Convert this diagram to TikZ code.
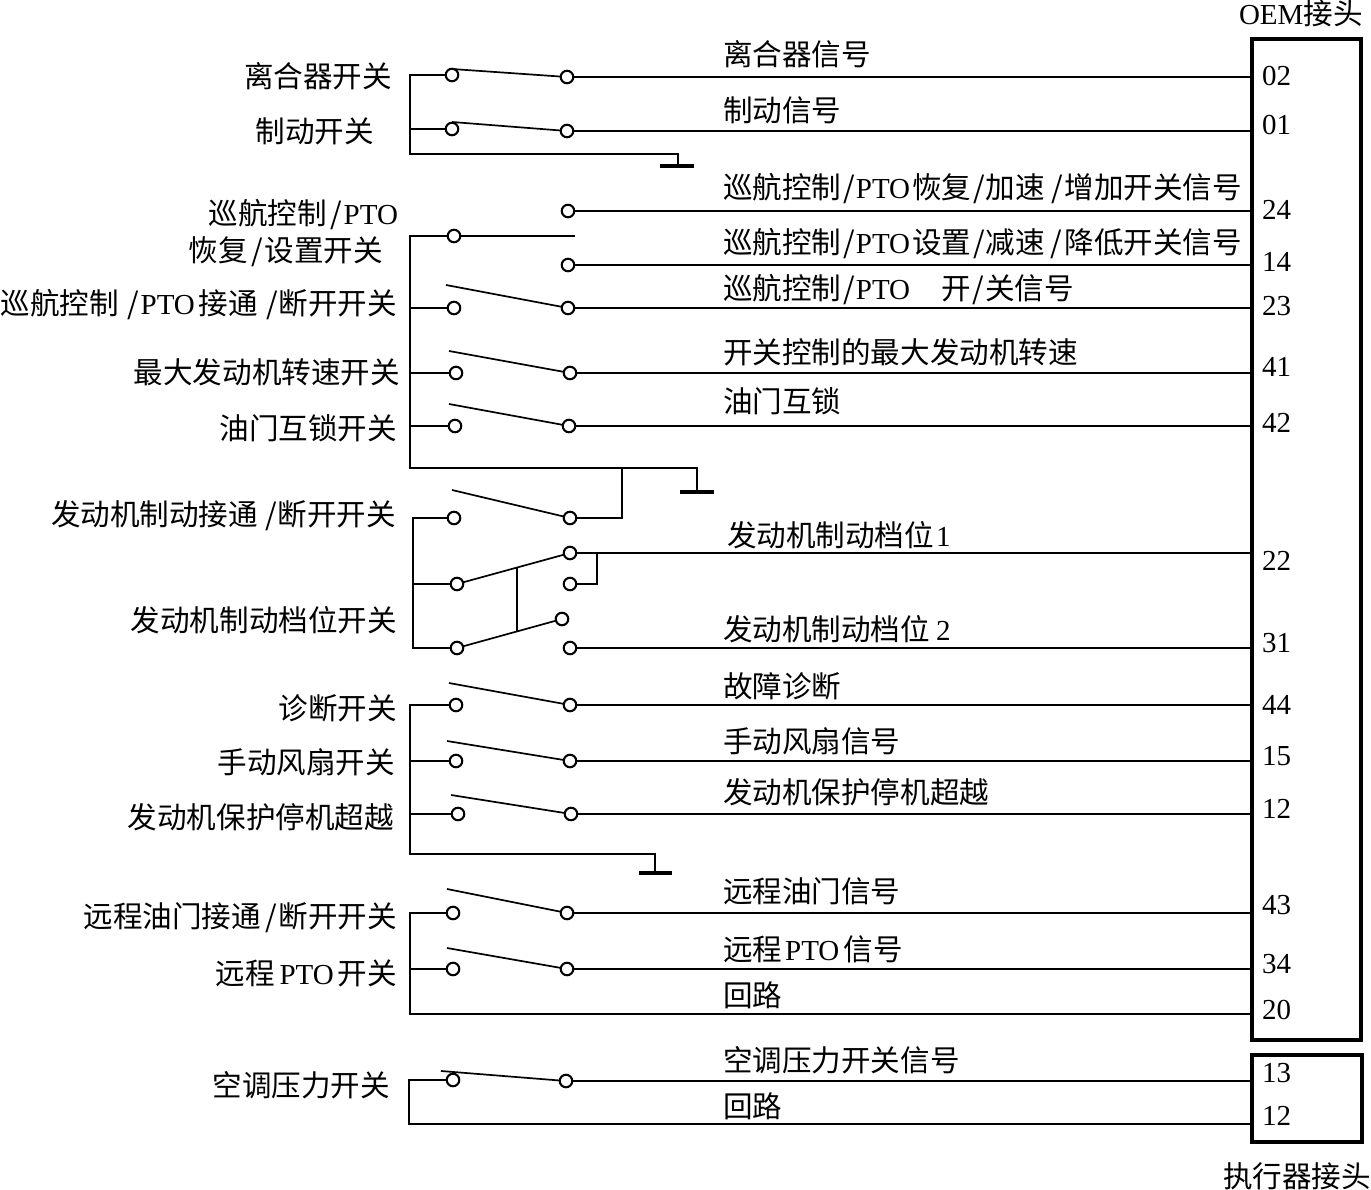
\documentclass[tikz,border=0pt]{standalone}
\usepackage{fontspec}
\setmainfont{Liberation Serif}
\newfontfamily\cjk{Noto Sans CJK SC}[Scale=1.02]
\newcommand{\la}[1]{{\rmfamily\normalfont #1}}
\newcommand{\hs}[1]{\hspace{#1pt}}
\newcommand{\swt}[7]{%
  \node[term] (#1L) at (#2,#3) {};
  \node[term] (#1R) at (#4,#5) {};
  \coordinate (#1B) at (#6,#7);
  \draw[wire] (#1B) -- (#1R);
}
\tikzset{
  wire/.style={line width=1.7pt,line cap=butt},
  term/.style={circle,draw,line width=2.1pt,fill=white,minimum size=12.5pt,inner sep=0pt,outer sep=0pt},
  txt/.style={inner sep=0pt,outer sep=0pt,font=\fontsize{29}{32}\selectfont\cjk,text height=26pt,text depth=2pt},
  lbl/.style={txt,anchor=east},
  sig/.style={txt,anchor=west},
  port/.style={txt,anchor=west,font=\fontsize{29}{32}\selectfont\rmfamily,text height=24pt,text depth=4pt},
  box/.style={draw,line width=4pt,inner sep=0pt,outer sep=0pt,anchor=north west},
  gnd/.style={line width=3.2pt},
}
\begin{document}
\begin{tikzpicture}[x=1pt,y=-1pt]
\useasboundingbox (0,0) rectangle (1371,1190);
% connector blocks
\node[box,minimum width=109pt,minimum height=1001pt] (main) at (1252,39) {};
\node[box,line width=3.4pt,minimum width=110pt,minimum height=87pt] (act) at (1252,1055) {};
\node[txt,anchor=west,font=\fontsize{29}{32}\selectfont\rmfamily] (oem) at (1239,13) {OEM{\cjk 接头}};
\node[txt,anchor=west] (actl) at (1223,1175) {执行器接头};
% switches
\swt{a}{452}{75}{567}{77}{452}{69}
\swt{b}{452}{129}{567}{131}{452}{122}
\node[term] (c1R) at (568,211) {};
\node[term] (c2R) at (568,265) {};
\node[term] (c0L) at (454,236) {};
\coordinate (c0E) at (575,236);
\swt{d}{454}{308}{568}{308}{446}{285}
\swt{e}{456}{373}{570}{373}{449}{351}
\swt{f}{455}{426}{569}{426}{449}{404}
\swt{g}{454}{518}{570}{518}{452}{490}
\node[term] (h1L) at (457,584) {};
\node[term] (h1R) at (570,553) {};
\node[term] (h1S) at (570,584) {};
\node[term] (h2L) at (457,648) {};
\node[term] (h2T) at (562,619) {};
\node[term] (h2R) at (570,648) {};
\swt{i}{456}{705}{570}{705}{449}{683}
\swt{j}{456}{761}{570}{761}{447}{741}
\swt{k}{458}{814}{571}{814}{451}{795}
\swt{l}{453}{913}{567}{913}{447}{889}
\swt{m}{453}{969}{567}{969}{447}{948}
\node[term] (nL) at (453,1080) {};
\node[term] (nR) at (566,1081) {};
\coordinate (nB) at (441,1071);
% signal wires
\foreach \s in {a,b,c1,c2,d,e,f,h1,h2,i,j,k,l,m}{
  \draw[wire] (\s R) -- (\s R -| main.west);
}
\draw[wire] (nR) -- (nR -| act.west);
% first group
\coordinate (busA) at (410,75);
\coordinate (busAb) at (410,154);
\coordinate (gndA) at (678,154);
\coordinate (gndAb) at (678,166);
\draw[wire] (aL) -- (busA) -- (busAb) -- (gndA) -- (gndAb);
\draw[wire] (bL) -- (bL -| busA);
\draw[gnd] (660,166) -- (694,166);
% second group
\coordinate (busB) at (410,236);
\coordinate (busBb) at (410,468);
\coordinate (gndB) at (697,468);
\coordinate (gndBb) at (697,492);
\coordinate (tapB) at (622,468);
\draw[wire] (c0E) -- (c0L) -- (busB) -- (busBb) -- (gndB) -- (gndBb);
\foreach \s in {d,e,f}{ \draw[wire] (\s L) -- (\s L -| busB); }
\draw[gnd] (680,492) -- (714,492);
\draw[wire] (tapB) |- (gR);
% engine brake group
\coordinate (busC) at (413,518);
\coordinate (busCb) at (413,648);
\draw[wire] (gL) -- (busC) -- (busCb) -- (h2L);
\draw[wire] (h1L) -- (h1L -| busC);
\draw[wire] (h1L) -- (h1R);
\draw[wire] (h2L) -- (h2T);
\coordinate (linkT) at (517,568);
\coordinate (linkB) at (517,631);
\draw[wire] (linkT) -- (linkB);
\coordinate (brR) at (597,553);
\draw[wire] (brR) |- (h1S);
% diagnostics group
\coordinate (busD) at (410,705);
\coordinate (busDb) at (410,854);
\coordinate (gndD) at (655,854);
\coordinate (gndDb) at (655,873);
\draw[wire] (iL) -- (busD) -- (busDb) -- (gndD) -- (gndDb);
\foreach \s in {j,k}{ \draw[wire] (\s L) -- (\s L -| busD); }
\draw[gnd] (639,873) -- (672,873);
% remote group
\coordinate (busE) at (410,913);
\coordinate (busEb) at (410,1014);
\coordinate (retE) at (1252,1014);
\draw[wire] (lL) -- (busE) -- (busEb) -- (retE);
\draw[wire] (mL) -- (mL -| busE);
% AC group
\coordinate (busF) at (409,1080);
\coordinate (busFb) at (409,1124);
\draw[wire] (nL) -- (busF) -- (busFb) -- (busFb -| act.west);
\draw[wire] (nB) -- (nR);
% left labels
\node[lbl] (t1) at (392,76) {离合器开关};
\node[lbl] (t2) at (374,131) {制动开关};
\node[lbl] (t3) at (398,213) {巡航控制\hs{3}/\hs{2}\la{PTO}};
\node[lbl] (t4) at (383,250) {恢复\hs{3}/\hs{2}设置开关};
\node[lbl] (t5) at (397,303) {巡航控制\hs{8}/\hs{2}\la{PTO}\hs{4}接通\hs{8}/\hs{1}断开开关};
\node[lbl] (t6) at (400,371) {最大发动机转速开关};
\node[lbl] (t7) at (397,427) {油门互锁开关};
\node[lbl] (t8) at (396,513) {发动机制动接通\hs{7}/\hs{1}断开开关};
\node[lbl] (t9) at (397,619) {发动机制动档位开关};
\node[lbl] (t10) at (397,707) {诊断开关};
\node[lbl] (t11) at (395,761) {手动风扇开关};
\node[lbl] (t12) at (394,816) {发动机保护停机超越};
\node[lbl] (t13) at (397,915) {远程油门接通\hs{4}/\hs{2}断开开关};
\node[lbl] (t14) at (397,972) {远程\hs{5}\la{PTO}\hs{4}开关};
\node[lbl] (t15) at (390,1084) {空调压力开关};
% signal labels
\node[sig] (s1) at (723,54) {离合器信号};
\node[sig] (s2) at (723,110) {制动信号};
\node[sig] (s3) at (723,187) {巡航控制\hs{2}/\hs{1}\la{PTO}\hs{2}恢复\hs{2}/\hs{1}加速\hs{6}/\hs{2}增加开关信号};
\node[sig] (s4) at (723,242) {巡航控制\hs{2}/\hs{1}\la{PTO}\hs{2}设置\hs{2}/\hs{1}减速\hs{5}/\hs{3}降低开关信号};
\node[sig] (s5) at (723,288) {巡航控制\hs{2}/\hs{1}\la{PTO}\hs{31}开\hs{2}/\hs{1}关信号};
\node[sig] (s6) at (723,351) {开关控制的最大发动机转速};
\node[sig] (s7) at (723,400) {油门互锁};
\node[sig] (s8) at (727,534) {发动机制动档位\hs{2}\la{1}};
\node[sig] (s9) at (723,628) {发动机制动档位\hs{6}\la{2}};
\node[sig] (s10) at (723,685) {故障诊断};
\node[sig] (s11) at (723,740) {手动风扇信号};
\node[sig] (s12) at (723,791) {发动机保护停机超越};
\node[sig] (s13) at (723,890) {远程油门信号};
\node[sig] (s14) at (723,948) {远程\hs{3}\la{PTO}\hs{4}信号};
\node[sig] (s15) at (723,994) {回路};
\node[sig] (s16) at (723,1059) {空调压力开关信号};
\node[sig] (s17) at (723,1105) {回路};
% port numbers
\node[port] (p02) at (1262,76) {02};
\node[port] (p01) at (1262,125) {01};
\node[port] (p24) at (1262,210) {24};
\node[port] (p14) at (1262,262) {14};
\node[port] (p23) at (1262,306) {23};
\node[port] (p41) at (1262,366) {41};
\node[port] (p42) at (1262,422) {42};
\node[port] (p22) at (1262,560) {22};
\node[port] (p31) at (1262,642) {31};
\node[port] (p44) at (1262,704) {44};
\node[port] (p15) at (1262,755) {15};
\node[port] (p12) at (1262,808) {12};
\node[port] (p43) at (1262,904) {43};
\node[port] (p34) at (1262,963) {34};
\node[port] (p20) at (1262,1009) {20};
\node[port] (p13) at (1262,1072) {13};
\node[port] (p12b) at (1262,1115) {12};
\end{tikzpicture}
\end{document}
